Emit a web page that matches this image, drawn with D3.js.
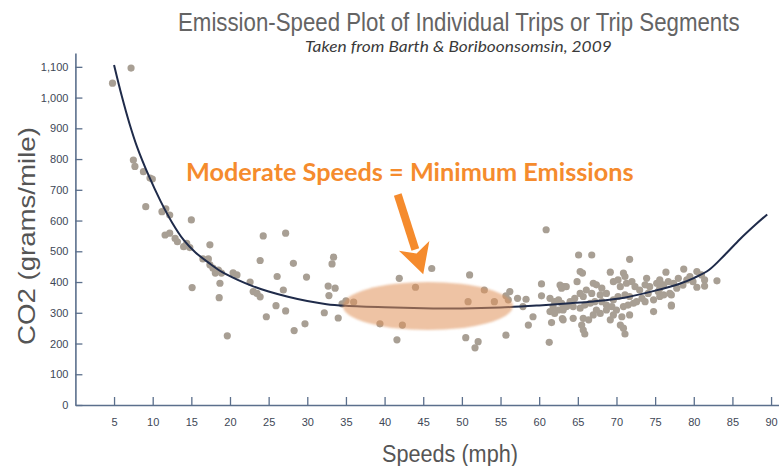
<!DOCTYPE html>
<html>
<head>
<meta charset="utf-8">
<script src="https://cdn.jsdelivr.net/npm/d3@7"></script>
<style>
  html, body { margin: 0; padding: 0; background: #fff; }
  svg { display: block; }
</style>
</head>
<body>
<svg id="chart" width="779" height="466"></svg>
<script>
// Fitted emission-speed curve (mph, g/mile)
const curveSpeed = [5, 6, 7, 8, 9.5, 11, 12.5, 14, 15.5, 17.5, 19, 21, 23, 25, 27.5, 30, 32.5, 35, 40, 45, 50, 55, 60, 64, 67, 71, 75, 78, 80, 82, 84, 86, 88, 89.5];
const curveCO2   = [1106, 1005, 915, 838, 745, 664, 594, 537, 497, 458, 432, 407, 386, 369, 352, 338, 328, 323, 318, 315, 314, 317, 324, 331, 337, 349, 372, 393, 413, 440, 488, 540, 587, 620];

// Individual trips / trip segments
const tripSpeed = [
  4.8, 7.2, 7.5, 7.7, 8.8, 9.65, 9.95, 9.1, 11.2, 11.7, 12.2, 15.0, 11.6, 12.2, 12.9, 13.2, 14.0, 14.4, 14.8, 17.4,
  16.5, 17.2, 17.4, 17.8, 18.1, 18.5, 18.9, 18.7, 15.1, 18.6,
  20.4, 20.9, 22.6, 19.65, 24.3, 27.2, 23.9, 28.2, 26.1, 29.9, 23.0, 23.5, 23.9, 26.9, 25.95, 27.2, 24.7, 29.7, 28.3,
  33.4, 33.2, 32.7, 33.6, 32.8, 35.0, 36.0, 34.5, 32.2, 34.0, 41.9, 46.1, 44.0, 39.4, 42.3, 41.6,
  60.9, 51.0, 52.9, 50.8, 54.2, 56.2, 55.7, 56.0, 57.2, 58.3, 57.9, 59.2, 58.6, 55.7, 50.5, 52.1, 51.7, 61.3, 60.3, 60.3, 61.6,
  61.4, 62.0, 62.5, 62.9, 61.8, 62.5, 63.1, 63.6, 61.4, 62.0, 63.0, 63.2, 62.7,
  65.1, 66.8, 71.7, 65.3, 65.6, 69.2, 70.9, 71.1, 76.4, 78.7, 64.9, 63.5, 62.9,
  67.0, 67.4, 68.1, 69.6, 70.2, 70.5, 71.3, 72.0, 72.4, 73.0, 73.9, 74.3, 75.2, 75.6, 76.1, 76.7, 77.4, 77.8,
  76.9, 75.4, 74.1, 73.3, 72.6, 71.7, 71.1, 70.2, 69.6, 68.7, 67.9, 66.8, 66.1, 65.7, 65.3, 64.6, 64.0, 63.5, 63.1,
  64.4, 65.3, 65.9, 66.6, 67.2, 68.1, 68.7, 69.4, 70.0, 70.9, 71.5, 72.2, 73.7, 74.8, 75.6, 76.1, 77.1,
  74.8, 71.7, 70.7, 70.5, 69.2, 67.9, 67.0, 66.4, 65.7, 65.5, 65.7, 65.9, 64.4, 63.1, 70.9, 71.1, 67.4, 68.7, 69.6, 75.6, 73.7,
  80.4, 81.0, 81.4, 80.4, 81.4, 83.0, 79.5, 79.9, 77.1, 75.6, 77.1, 78.6, 79.1, 78.0
];
const tripCO2 = [
  1047, 1096, 797, 776, 759, 738, 735, 645, 629, 638, 618, 602, 553, 559, 542, 531, 515, 526, 512, 521,
  475, 475, 456, 445, 429, 439, 429, 396, 382, 349,
  430, 423, 400, 225, 550, 559, 470, 461, 418, 416, 369, 363, 352, 374, 323, 306, 287, 264, 242,
  481, 459, 387, 380, 356, 339, 335, 329, 300, 283, 412, 444, 383, 264, 260, 212,
  570, 423, 374, 336, 336, 369, 355, 342, 347, 344, 320, 287, 260, 227, 219, 206, 186, 204, 394, 355, 268,
  347, 336, 342, 331, 320, 309, 315, 322, 304, 298, 281, 385, 390,
  488, 488, 474, 434, 429, 432, 429, 418, 432, 442, 401, 385, 380,
  396, 391, 380, 401, 407, 385, 396, 401, 385, 374, 412, 385, 396, 401, 391, 401, 396, 380,
  363, 369, 363, 347, 336, 353, 358, 353, 342, 363, 358, 363, 374, 353, 363, 347, 336, 320, 309,
  320, 315, 325, 331, 336, 336, 325, 320, 309, 320, 325, 331, 336, 342, 353, 358, 325,
  304, 293, 287, 260, 277, 298, 293, 277, 282, 260, 244, 231, 282, 277, 250, 231, 309, 309, 293, 380, 391,
  434, 423, 407, 383, 387, 404, 418, 401, 322, 407, 358, 390, 407, 412
];

const xTicks = [5, 10, 15, 20, 25, 30, 35, 40, 45, 50, 55, 60, 65, 70, 75, 80, 85, 90];
const yTicks = [0, 100, 200, 300, 400, 500, 600, 700, 800, 900, 1000, 1100];

// Highlighted low-emission zone (centre and half-extents, data units)
const zoneSpeed = [45.6, 11.0];
const zoneCO2 = [322, 78];
// Arrow from the callout down to the zone (speed, CO2)
const arrowFrom = [41.7, 685];
const arrowTo = [45.0, 425];

const titleText = "Emission-Speed Plot of Individual Trips or Trip Segments";
const subtitleText = "Taken from Barth & Boriboonsomsin, 2009";
const calloutText = "Moderate Speeds = Minimum Emissions";
const xLabel = "Speeds (mph)";
const yLabel = "CO2 (grams/mile)";

const svg = d3.select("#chart");
const narrow = "'Liberation Sans Narrow', 'Arial Narrow', 'Liberation Sans', Arial, sans-serif";

const x = d3.scaleLinear().domain([0, 91]).range([75.4, 778.8]);
const y = d3.scaleLinear().domain([0, 1145]).range([405, 53]);

const axisColor = "#5b6f8c";
const tickTextColor = "#3e4756";

// Scale a text horizontally so it spans the given width from (tx, ty)
function fitText(sel, tx, ty, width, rotate) {
  const w = sel.node().getComputedTextLength();
  const k = width / w;
  sel.attr("x", 0).attr("y", 0)
    .attr("transform", `translate(${tx},${ty})` + (rotate ? ` rotate(${rotate})` : "") + ` scale(${k},1)`);
  return sel;
}

// Axes
const xAxis = svg.append("g")
  .attr("transform", `translate(0,${y(0)})`)
  .call(d3.axisBottom(x).tickValues(xTicks).tickSizeInner(-8).tickSizeOuter(0).tickPadding(13));
const yAxis = svg.append("g")
  .attr("transform", `translate(${x(0)},0)`)
  .call(d3.axisLeft(y).tickValues(yTicks).tickFormat(d3.format(",")).tickSizeInner(-7).tickSizeOuter(0).tickPadding(7));

[xAxis, yAxis].forEach(g => {
  g.select(".domain").attr("stroke", axisColor).attr("stroke-width", 1.6);
  g.selectAll(".tick line").attr("stroke", axisColor).attr("stroke-width", 1.3);
  g.selectAll(".tick text")
    .attr("fill", tickTextColor)
    .style("font-family", narrow)
    .style("font-size", "11px");
});

// Scatter of trips
svg.append("g")
  .selectAll("circle")
  .data(tripSpeed.map((s, i) => [s, tripCO2[i]]))
  .join("circle")
  .attr("cx", d => x(d[0]))
  .attr("cy", d => y(d[1]))
  .attr("r", 3.6)
  .attr("fill", "#a89f94");

// Fitted curve
const line = d3.line()
  .x(d => x(d[0]))
  .y(d => y(d[1]))
  .curve(d3.curveCatmullRom.alpha(0.5));
svg.append("path")
  .datum(curveSpeed.map((s, i) => [s, curveCO2[i]]))
  .attr("d", line)
  .attr("fill", "none")
  .attr("stroke", "#1f2b4a")
  .attr("stroke-width", 2);

// Low-emission zone highlight
const defs = svg.append("defs");
defs.append("filter").attr("id", "soft")
  .attr("x", "-20%").attr("y", "-40%").attr("width", "140%").attr("height", "180%")
  .append("feGaussianBlur").attr("stdDeviation", 1.1);
svg.append("ellipse")
  .attr("cx", x(zoneSpeed[0]))
  .attr("cy", y(zoneCO2[0]))
  .attr("rx", x(zoneSpeed[0] + zoneSpeed[1]) - x(zoneSpeed[0]))
  .attr("ry", y(zoneCO2[0] - zoneCO2[1]) - y(zoneCO2[0]))
  .attr("fill", "#e0925a")
  .attr("fill-opacity", 0.55)
  .attr("filter", "url(#soft)");

// Arrow
const orange = "#f58b2d";
const ax0 = x(arrowFrom[0]), ay0 = y(arrowFrom[1]);
const ax1 = x(arrowTo[0]), ay1 = y(arrowTo[1]);
const ang = Math.atan2(ay1 - ay0, ax1 - ax0);
const headLen = 30, headHalf = 16;
const bx = ax1 - headLen * Math.cos(ang), by = ay1 - headLen * Math.sin(ang);
svg.append("line")
  .attr("x1", ax0).attr("y1", ay0)
  .attr("x2", bx + 4 * Math.cos(ang)).attr("y2", by + 4 * Math.sin(ang))
  .attr("stroke", orange).attr("stroke-width", 8).attr("stroke-linecap", "butt");
svg.append("path")
  .attr("d", `M${ax1},${ay1}` +
    `L${bx - headHalf * Math.sin(ang)},${by + headHalf * Math.cos(ang)}` +
    `L${bx + 8 * Math.cos(ang)},${by + 8 * Math.sin(ang)}` +
    `L${bx + headHalf * Math.sin(ang)},${by - headHalf * Math.cos(ang)}Z`)
  .attr("fill", orange);

// Callout
fitText(svg.append("text")
  .attr("fill", orange)
  .style("font-family", "Lato, 'Open Sans', sans-serif")
  .style("font-weight", "bold")
  .style("font-size", "24px")
  .text(calloutText), 186, 181, 448);

// Titles
fitText(svg.append("text")
  .attr("fill", "#646464")
  .style("font-family", narrow)
  .style("font-size", "25px")
  .text(titleText), 178, 31, 562);
fitText(svg.append("text")
  .attr("fill", "#3a3a3a")
  .style("font-family", "Lato, 'Open Sans', sans-serif")
  .style("font-style", "italic")
  .style("font-size", "16px")
  .text(subtitleText), 305, 52, 307);

// Axis titles
fitText(svg.append("text")
  .attr("fill", "#555")
  .style("font-family", narrow)
  .style("font-size", "24px")
  .text(xLabel), 382, 462, 136);
fitText(svg.append("text")
  .attr("fill", "#555")
  .style("font-family", narrow)
  .style("font-size", "24px")
  .text(yLabel), 35, 345, 218, -90);
</script>
</body>
</html>
